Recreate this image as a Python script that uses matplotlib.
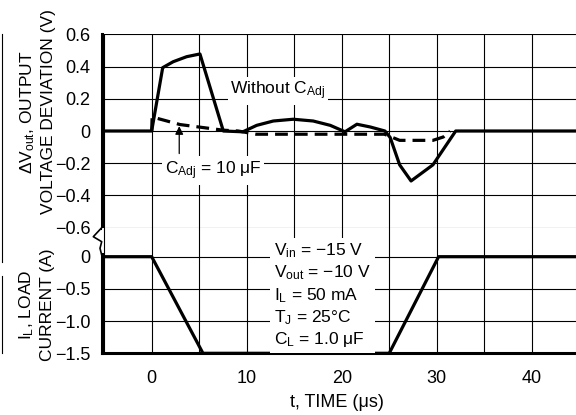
import matplotlib
matplotlib.use("Agg")
import matplotlib.pyplot as plt
from matplotlib.lines import Line2D

plt.rcParams.update({
    "font.family": ["Liberation Sans", "DejaVu Sans"],
    "font.size": 12.5,
    "mathtext.default": "regular",
})

# Output voltage deviation, without C_Adj (solid)
t_without = [-6, 0, 1.16, 2.27, 3.68, 5.08, 7.54, 9.6, 11.05, 12.8, 14.9,
             17.0, 18.8, 20.35, 21.6, 23.0, 24.55, 25.1, 26.1, 27.3, 29.6,
             32.0, 46]
v_without = [0, 0, 0.393, 0.43, 0.461, 0.478, 0.0, -0.005, 0.035, 0.062,
             0.073, 0.062, 0.035, -0.005, 0.042, 0.025, 0.0, -0.04, -0.21,
             -0.31, -0.21, 0.0, 0]

# Output voltage deviation, C_Adj = 10 uF (dashed)
t_with = [0, 0.05, 2.98, 7.54, 9.1, 11.0, 20.0, 24.5, 26.1, 29.6,
          30.7, 31.4]
v_with = [0, 0.087, 0.04, 0.005, 0.0, -0.02, -0.02, -0.02, -0.058,
          -0.058, -0.037, 0.0]

# Load current step
t_load = [-6, 0, 5.4, 25.0, 30.2, 46]
i_load = [0, 0, -1.5, -1.5, 0, 0]

v_ticks = [0.6, 0.4, 0.2, 0, -0.2, -0.4, -0.6]
v_ticklabels = ["0.6", "0.4", "0.2", "0", "\u22120.2", "\u22120.4", "\u22120.6"]
i_ticks = [0, -0.5, -1.0, -1.5]
i_ticklabels = ["0", "\u22120.5", "\u22121.0", "\u22121.5"]
t_ticks = [0, 10, 20, 30, 40]
t_grid = [-5, 0, 5, 10, 15, 20, 25, 30, 35, 40]

conditions = ["V$_{in}$ = \u221215 V", "V$_{out}$ = \u221210 V",
              "I$_L$ = 50 mA", "T$_J$ = 25\u00b0C", "C$_L$ = 1.0 \u03bcF"]

W, H = 576, 415
fig = plt.figure(figsize=(W / 100, H / 100), dpi=100)

left = 101.7 / W
ax1 = fig.add_axes([left, 1 - 227.7 / H, 1 - left, (227.7 - 34.3) / H])
ax2 = fig.add_axes([left, 1 - 353.3 / H, 1 - left, (353.3 - 227.7) / H])

xlim = (-5.26, 44.66)
grid_kw = dict(color="black", linewidth=0.8, zorder=1)

for ax in (ax1, ax2):
    ax.set_xlim(*xlim)
    for x in t_grid:
        ax.axvline(x, **grid_kw)
    for s in ("top", "right"):
        ax.spines[s].set_visible(False)
    ax.spines["left"].set_linewidth(2.2)
    ax.tick_params(length=0, pad=8, labelsize=13)

# top panel
ax1.set_ylim(-0.6, 0.6)
for y in v_ticks:
    ax1.axhline(y, **grid_kw)
ax1.set_yticks(v_ticks)
ax1.set_yticklabels(v_ticklabels)
ax1.set_xticks([])
ax1.spines["bottom"].set_visible(False)
ax1.plot(t_without, v_without, color="black", linewidth=2.3, zorder=4)
ax1.plot(t_with, v_with, color="black", linewidth=2.3, zorder=3,
         dashes=(4, 2.2))

ax1.text(13.3, 0.25, "Without C$_{Adj}$", ha="center", va="center",
         zorder=5, bbox=dict(facecolor="white", edgecolor="none", pad=2))
ax1.text(6.5, -0.245, "C$_{Adj}$ = 10 \u03bcF", ha="center", va="center",
         zorder=5, bbox=dict(facecolor="white", edgecolor="none", pad=2))
ax1.annotate("", xy=(2.9, 0.03), xytext=(2.9, -0.14), zorder=5,
             arrowprops=dict(arrowstyle="-|>", color="black", lw=0.9,
                             mutation_scale=12, shrinkA=0, shrinkB=0))

# bottom panel
ax2.set_ylim(-1.5, 0.45)
for y in i_ticks:
    ax2.axhline(y, **grid_kw)
ax2.set_yticks(i_ticks)
ax2.set_yticklabels(i_ticklabels)
ax2.set_xticks(t_ticks)
ax2.tick_params(axis="x", pad=12)
ax2.spines["bottom"].set_linewidth(2.2)
ax2.spines["left"].set_bounds(-1.5, 0.04)
ax2.plot(t_load, i_load, color="black", linewidth=2.3, zorder=4)

ax2.text(12.9, -0.6, "\n".join(conditions), ha="left", va="center",
         linespacing=1.25, zorder=5,
         bbox=dict(facecolor="white", edgecolor="none", pad=3))

# axis break zigzag on the left spine
zx = [101.7, 93.3, 101.7, 100.0, 101.7]
zy = [227.7, 236.7, 241.7, 248.3, 255.0]
fig.add_artist(Line2D([x / W for x in zx], [1 - y / H for y in zy],
                      color="black", linewidth=1.2))
# partial bracket at the far left edge
fig.add_artist(Line2D([2 / W, 2 / W], [1 - 34 / H, 1 - 262 / H],
                      color="black", linewidth=0.8))
fig.add_artist(Line2D([2 / W, 2 / W], [1 - 276 / H, 1 - 353 / H],
                      color="black", linewidth=0.8))

# axis labels
fig.text(37 / W, 1 - 112 / H, "\u0394V$_{out}$, OUTPUT\nVOLTAGE DEVIATION (V)",
         rotation=90, ha="center", va="center", multialignment="center",
         linespacing=1.3)
fig.text(36 / W, 1 - 305 / H, "I$_L$, LOAD\nCURRENT (A)",
         rotation=90, ha="center", va="center", multialignment="center",
         linespacing=1.3)
fig.text(337 / W, 1 - 402 / H, "t, TIME (\u03bcs)", ha="center", va="center",
         fontsize=13)

fig.savefig("out.png", dpi=100)
